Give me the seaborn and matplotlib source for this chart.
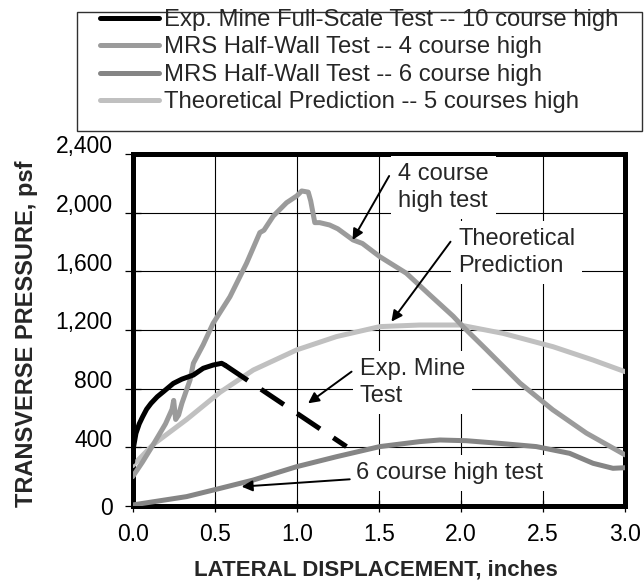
import numpy as np
import pandas as pd
import matplotlib
matplotlib.use("Agg")
import matplotlib.pyplot as plt
import matplotlib.transforms as mtransforms
from matplotlib.patches import Rectangle
import seaborn as sns

# ---------------- data ----------------
mine_x = [0.0, 0.005, 0.02, 0.04, 0.061, 0.085, 0.112, 0.15, 0.187, 0.248, 0.30, 0.37, 0.43, 0.49, 0.542, 0.562]
mine_y = [300, 400, 495, 560, 609, 660, 700, 745, 779, 836, 865, 893, 939, 961, 973, 961]
mine_dash_x = [0.562, 1.303]
mine_dash_y = [961, 405]

mrs4_x = [0.0, 0.06, 0.126, 0.20, 0.24, 0.25, 0.262, 0.28, 0.30, 0.35, 0.37, 0.43, 0.49, 0.593, 0.694,
          0.775, 0.80, 0.857, 0.938, 1.0, 1.03, 1.07, 1.085, 1.11, 1.14, 1.20, 1.25, 1.343, 1.40,
          1.506, 1.668, 1.81, 1.953, 2.013, 2.156, 2.36, 2.56, 2.765, 3.0]
mrs4_y = [200, 300, 420, 560, 660, 720, 590, 620, 700, 860, 973, 1100, 1245, 1427, 1655,
          1864, 1880, 1977, 2068, 2114, 2148, 2140, 2080, 1932, 1932, 1916, 1890, 1814, 1790,
          1700, 1587, 1440, 1294, 1223, 1066, 838, 656, 497, 349]

mrs6_x = [0.0, 0.329, 0.532, 0.735, 0.999, 1.242, 1.506, 1.75, 1.872, 2.034, 2.237, 2.46, 2.663, 2.806, 2.927, 3.0]
mrs6_y = [7, 64, 120, 177, 268, 336, 405, 439, 450, 445, 427, 405, 359, 291, 257, 261]

theo_x = [0.0, 0.126, 0.329, 0.532, 0.735, 0.999, 1.242, 1.506, 1.75, 1.994, 2.257, 2.562, 2.806, 3.0]
theo_y = [275, 420, 590, 775, 927, 1064, 1155, 1223, 1234, 1234, 1177, 1086, 995, 916]

series_labels = ["Exp. Mine Full-Scale Test -- 10 course high",
                 "MRS Half-Wall Test -- 4 course high",
                 "MRS Half-Wall Test -- 6 course high",
                 "Theoretical Prediction -- 5 courses high"]

x_ticks = [0.0, 0.5, 1.0, 1.5, 2.0, 2.5, 3.0]
x_ticklabels = ["0.0", "0.5", "1.0", "1.5", "2.0", "2.5", "3.0"]
y_ticks = [0, 400, 800, 1200, 1600, 2000, 2400]
y_ticklabels = ["0", "400", "800", "1,200", "1,600", "2,000", "2,400"]

# ---------------- style ----------------
sns.set_style("white")
plt.rcParams['font.family'] = ['Liberation Sans', 'DejaVu Sans']

colors = ["#000000", "#9b9b9b", "#858585", "#c0c0c0"]
LW = 3.6

fig = plt.figure(figsize=(6.44, 5.82), dpi=100)
ax = fig.add_axes([0.2060, 0.1306, 0.7644, 0.6048])

sns.lineplot(x=theo_x, y=theo_y, ax=ax, color=colors[3], lw=LW, sort=False,
             estimator=None, label=series_labels[3], zorder=4)
sns.lineplot(x=mrs6_x, y=mrs6_y, ax=ax, color=colors[2], lw=LW, sort=False,
             estimator=None, label=series_labels[2], zorder=4)
sns.lineplot(x=mrs4_x, y=mrs4_y, ax=ax, color=colors[1], lw=LW, sort=False,
             estimator=None, label=series_labels[1], zorder=4)
sns.lineplot(x=mine_x, y=mine_y, ax=ax, color=colors[0], lw=LW, sort=False,
             estimator=None, label=series_labels[0], zorder=5)
sns.lineplot(x=mine_dash_x, y=mine_dash_y, ax=ax, color=colors[0], lw=LW, sort=False,
             estimator=None, label="_nolegend_", linestyle=(0, (5.5, 3.2)), zorder=5)

handles, labels = ax.get_legend_handles_labels()
if ax.get_legend() is not None:
    ax.get_legend().remove()
order = [labels.index(l) for l in series_labels]
handles = [handles[i] for i in order]

ax.set_xlim(0, 3.0)
ax.set_ylim(0, 2400)
ax.set_xticks(x_ticks)
ax.set_xticklabels(x_ticklabels)
ax.set_yticks(y_ticks)
ax.set_yticklabels(y_ticklabels)

ax.grid(True, color="black", lw=0.8)
ax.set_axisbelow(True)
for s in ax.spines.values():
    s.set_visible(True)
    s.set_linewidth(3.6)
    s.set_color("black")

ax.tick_params(axis="both", which="major", labelsize=16.5, colors="black")
ax.tick_params(axis="y", direction="inout", length=11, width=0.9, pad=9, left=True)
ax.tick_params(axis="x", direction="inout", length=8, width=0.9, pad=8, bottom=True)

# y tick labels sit slightly above their ticks in the reference
for lab, val in zip(ax.get_yticklabels(), y_ticks):
    dy = 0.0 if val == 0 else 9.5 / 100
    lab.set_transform(lab.get_transform() + mtransforms.ScaledTranslation(0, dy, fig.dpi_scale_trans))

ax.set_xlabel("LATERAL DISPLACEMENT, inches", fontsize=16, fontweight="bold")
ax.set_ylabel("TRANSVERSE PRESSURE, psf", fontsize=17, fontweight="bold")
ax.xaxis.set_label_coords(0.4934, -0.153)
ax.yaxis.set_label_coords(-0.192, 0.489)

# ---------------- annotations ----------------
tfs = 17
box = dict(boxstyle="square,pad=0.3", fc="white", ec="none")
ax.text(1.616, 2172, "4 course\nhigh test", fontsize=tfs, ha="left", va="center",
        linespacing=1.3, bbox=box, zorder=3)
ax.text(1.983, 1730, "Theoretical\nPrediction", fontsize=tfs, ha="left", va="center",
        linespacing=1.3, bbox=box, zorder=3)
ax.text(1.384, 842, "Exp. Mine\nTest", fontsize=tfs, ha="left", va="center",
        linespacing=1.3, bbox=box, zorder=3)
ax.text(1.36, 223, "6 course high test", fontsize=tfs, ha="left", va="center",
        bbox=box, zorder=3)

arrow = dict(arrowstyle="-|>", color="black", lw=1.4, mutation_scale=16, shrinkA=0, shrinkB=0)
for (tx, ty), (hx, hy) in [((1.563, 2250), (1.340, 1814)),
                           ((1.937, 1802), (1.577, 1257)),
                           ((1.334, 916), (1.069, 700)),
                           ((1.323, 182), (0.664, 132))]:
    ax.annotate("", xy=(hx, hy), xytext=(tx, ty), arrowprops=arrow, zorder=6)

# ---------------- legend ----------------
leg = fig.legend(handles, series_labels, loc="upper left",
                 bbox_to_anchor=(100 / 644, 1 - 9 / 582), frameon=False,
                 fontsize=17.2, handlelength=2.45, handletextpad=0.22,
                 labelspacing=0.23, borderpad=0, borderaxespad=0)
for h in leg.get_lines():
    h.set_linewidth(LW)
fig.patches.append(Rectangle((77 / 644, 1 - 131 / 582), (642 - 77) / 644, (131 - 12) / 582,
                             transform=fig.transFigure, fill=False, ec="#303030", lw=1.0))

fig.savefig("out.png", dpi=100)
